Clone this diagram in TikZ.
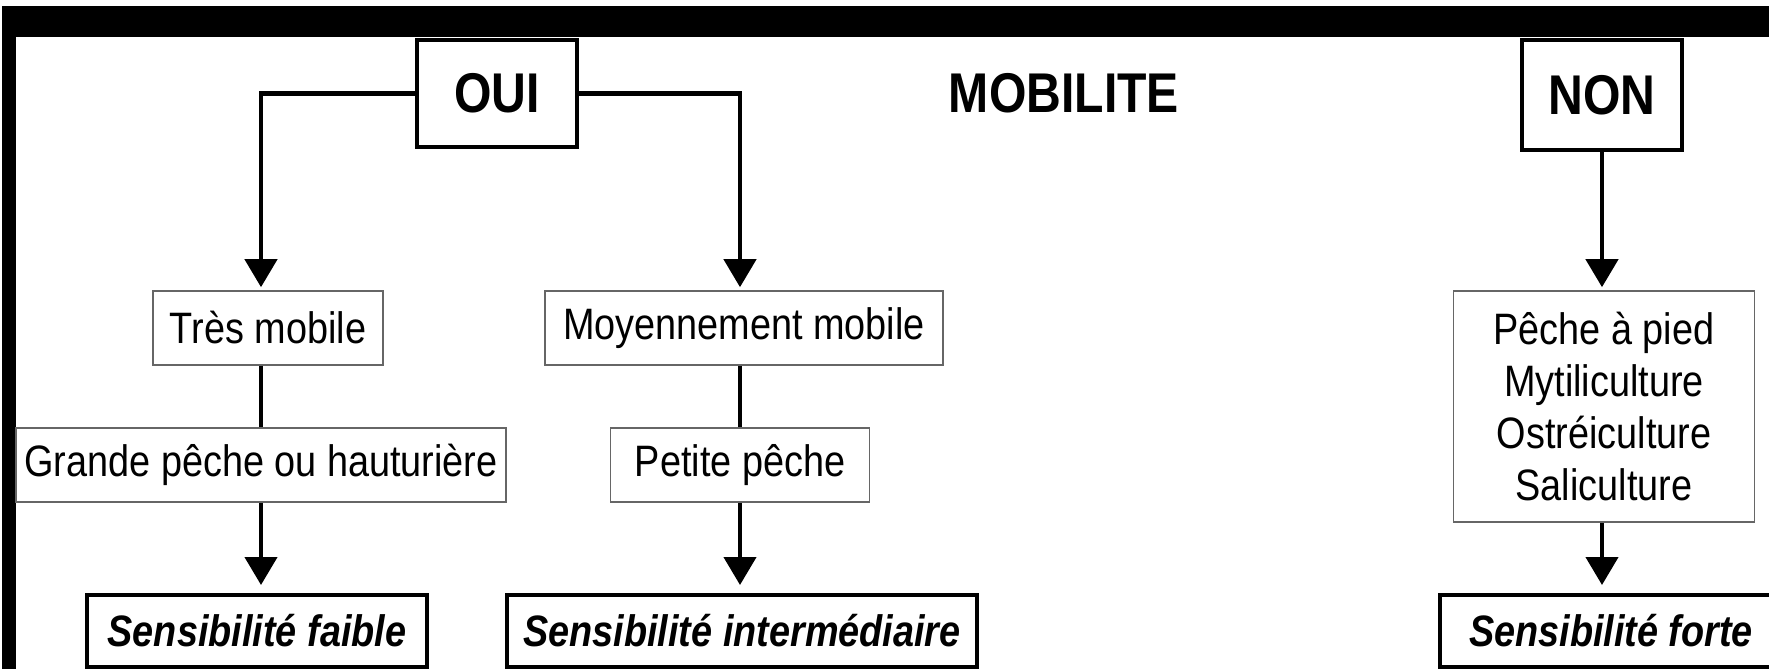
\documentclass[tikz,border=0pt]{standalone}
\usepackage{fontspec}
\newfontfamily\cond[FakeStretch=0.86]{Liberation Sans}
\usetikzlibrary{arrows.meta}

\tikzset{
  headbox/.style={draw, line width=2pt, inner sep=0pt,
    font=\cond\bfseries\fontsize{28}{32}\selectfont},
  catbox/.style={draw=black!60, line width=0.8pt, inner sep=0pt, align=center,
    font=\cond\fontsize{22}{26}\selectfont},
  resbox/.style={draw, line width=2pt, inner sep=0pt,
    font=\cond\bfseries\itshape\fontsize{22}{26}\selectfont},
  link/.style={line width=2.2pt},
  arr/.style={link, -{Triangle[width=16pt,length=14pt]}},
}

\begin{document}
\begin{tikzpicture}[x=0.5pt, y=-0.5pt]
  \useasboundingbox (0,0) rectangle (1769,669);
  \fill[white] (0,0) rectangle (1769,669);

  % frame bars
  \fill[black] (2,6) rectangle (1769,37);
  \fill[black] (2,6) rectangle (16,669);

  % header
  \node[headbox, minimum width=80pt, minimum height=53.5pt] (oui) at (497,93.5) {OUI};
  \node[font=\cond\bfseries\fontsize{28}{32}\selectfont] (mob) at (1064,93) {MOBILITE};
  \node[headbox, minimum width=80pt, minimum height=55pt] (non) at (1602,95) {NON};

  % categories
  \node[catbox, minimum width=115pt, minimum height=37pt] (tres) at (268,328) {Très mobile};
  \node[catbox, minimum width=199pt, minimum height=37pt] (moy) at (744,328) {Moyennement mobile};
  \node[catbox, minimum width=245pt, minimum height=37pt] (grande) at (261,465) {Grande pêche ou hauturière};
  \node[catbox, minimum width=129.5pt, minimum height=37pt] (petite) at (740,465) {Petite pêche};
  \node[catbox, minimum width=150.5pt, minimum height=115.5pt] (peche) at (1604,406.5)
    {Pêche à pied\\Mytiliculture\\Ostréiculture\\Saliculture};

  % sensitivity levels
  \node[resbox, minimum width=170pt, minimum height=36pt] (faible) at (257,631) {Sensibilité faible};
  \node[resbox, minimum width=235pt, minimum height=36pt] (inter) at (742,631) {Sensibilité intermédiaire};
  \node[resbox, minimum width=171pt, minimum height=36pt] (forte) at (1611,631) {Sensibilité forte};

  % connectors
  \draw[arr, shorten >=1.5pt] (oui.west) -| (grande.north |- tres.north);
  \draw[arr, shorten >=1.5pt] (oui.east) -| (petite.north |- moy.north);
  \draw[arr, shorten >=1.5pt] (non.south) -- (non.south |- peche.north);
  \draw[link] (grande.north |- tres.south) -- (grande.north);
  \draw[link] (petite.north |- moy.south) -- (petite.north);
  \draw[arr, shorten >=4pt] (grande.south) -- (grande.south |- faible.north);
  \draw[arr, shorten >=4pt] (petite.south) -- (petite.south |- inter.north);
  \draw[arr, shorten >=4pt] (non.south |- peche.south) -- (non.south |- forte.north);
\end{tikzpicture}
\end{document}
